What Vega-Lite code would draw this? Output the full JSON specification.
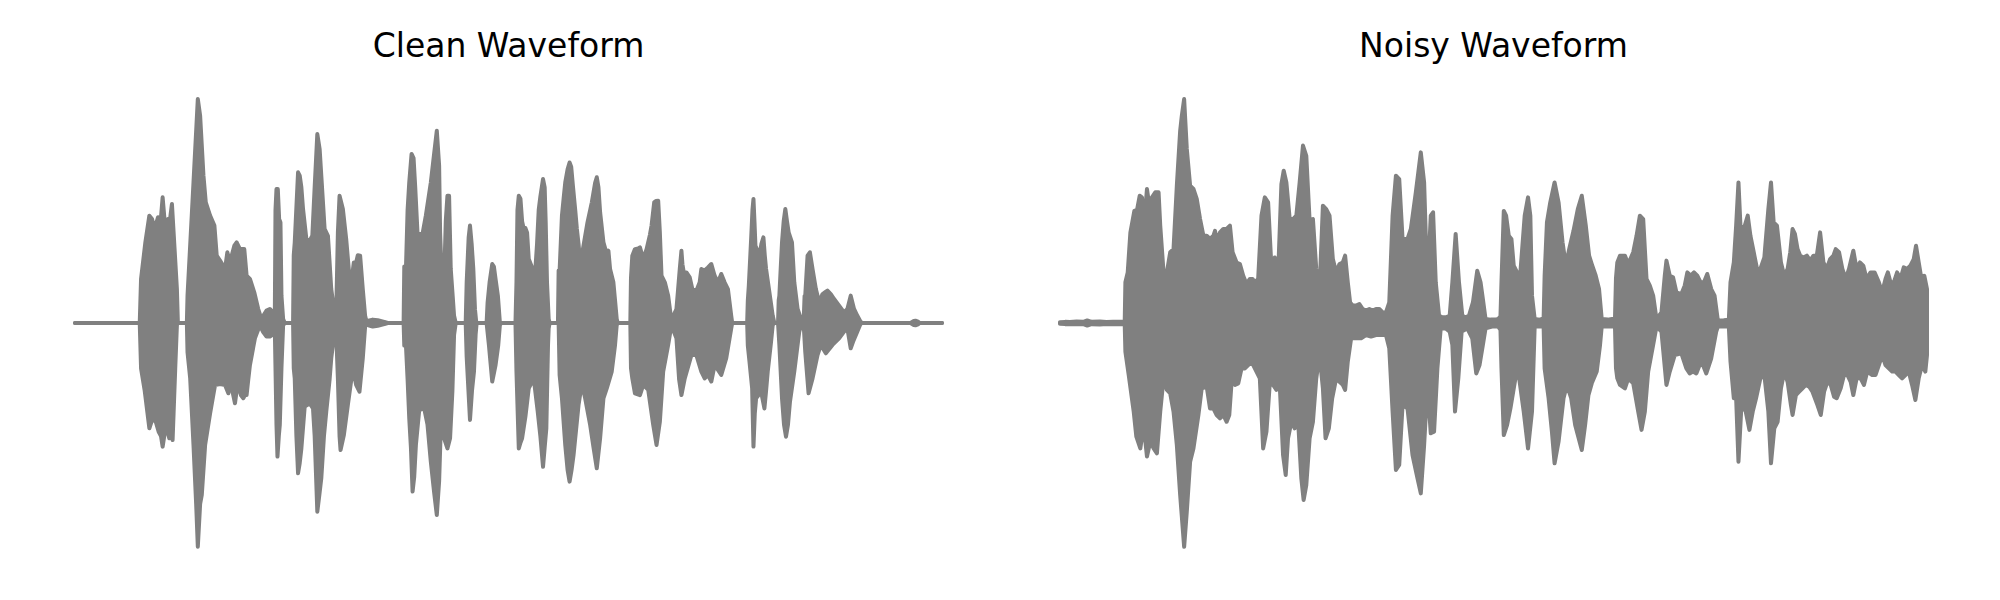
{
  "$schema": "https://vega.github.io/schema/vega-lite/v6.json",
  "padding": {"left": 73, "top": 31, "right": 0, "bottom": 0},
  "background": "white",
  "config": {
    "view": {"stroke": null},
    "title": {"font": "DejaVu Sans", "fontSize": 33, "fontWeight": "normal", "color": "#000000", "baseline": "alphabetic", "offset": 33}
  },
  "bounds": "flush",
  "spacing": 118,
  "datasets": {
    "clean": [
      {"env":"upper","t":0,"amp":0},{"env":"upper","t":195,"amp":0},{"env":"upper","t":199,"amp":0.195},{"env":"upper","t":212,"amp":0.357},{"env":"upper","t":224,"amp":0.475},{"env":"upper","t":232,"amp":0.46},{"env":"upper","t":240,"amp":0.416},{"env":"upper","t":250,"amp":0.468},{"env":"upper","t":257,"amp":0.431},{"env":"upper","t":264,"amp":0.556},{"env":"upper","t":272,"amp":0.416},{"env":"upper","t":280,"amp":0.46},{"env":"upper","t":284,"amp":0.431},{"env":"upper","t":292,"amp":0.527},{"env":"upper","t":300,"amp":0.327},{"env":"upper","t":307,"amp":0.15},{"env":"upper","t":310,"amp":0},
      {"env":"upper","t":337,"amp":0},{"env":"upper","t":339,"amp":0.121},{"env":"upper","t":357,"amp":0.622},{"env":"upper","t":370,"amp":0.991},{"env":"upper","t":377,"amp":0.917},{"env":"upper","t":387,"amp":0.652},{"env":"upper","t":394,"amp":0.534},{"env":"upper","t":407,"amp":0.475},{"env":"upper","t":420,"amp":0.431},{"env":"upper","t":427,"amp":0.298},{"env":"upper","t":437,"amp":0.276},{"env":"upper","t":452,"amp":0.239},{"env":"upper","t":459,"amp":0.313},{"env":"upper","t":467,"amp":0.268},{"env":"upper","t":472,"amp":0.298},{"env":"upper","t":480,"amp":0.342},{"env":"upper","t":487,"amp":0.357},{"env":"upper","t":497,"amp":0.327},{"env":"upper","t":510,"amp":0.327},{"env":"upper","t":517,"amp":0.209},{"env":"upper","t":527,"amp":0.195},{"env":"upper","t":540,"amp":0.136},{"env":"upper","t":552,"amp":0.062},{"env":"upper","t":560,"amp":0.025},{"env":"upper","t":567,"amp":0.032},{"env":"upper","t":577,"amp":0.055},{"env":"upper","t":587,"amp":0.062},{"env":"upper","t":597,"amp":0.047},{"env":"upper","t":602,"amp":0.032},{"env":"upper","t":604,"amp":0.5},{"env":"upper","t":607,"amp":0.593},{"env":"upper","t":611,"amp":0.593},{"env":"upper","t":615,"amp":0.46},{"env":"upper","t":619,"amp":0.445},{"env":"upper","t":622,"amp":0.121},{"env":"upper","t":627,"amp":0.018},{"env":"upper","t":632,"amp":0},
      {"env":"upper","t":657,"amp":0},{"env":"upper","t":659,"amp":0.3},{"env":"upper","t":662,"amp":0.357},{"env":"upper","t":672,"amp":0.667},{"env":"upper","t":677,"amp":0.652},{"env":"upper","t":682,"amp":0.6},{"env":"upper","t":687,"amp":0.504},{"env":"upper","t":697,"amp":0.372},{"env":"upper","t":707,"amp":0.364},{"env":"upper","t":715,"amp":0.386},{"env":"upper","t":722,"amp":0.6},{"env":"upper","t":730,"amp":0.836},{"env":"upper","t":737,"amp":0.77},{"env":"upper","t":742,"amp":0.652},{"env":"upper","t":752,"amp":0.416},{"env":"upper","t":762,"amp":0.386},{"env":"upper","t":772,"amp":0.15},{"env":"upper","t":780,"amp":0.062},{"env":"upper","t":787,"amp":0.05},{"env":"upper","t":792,"amp":0.4},{"env":"upper","t":797,"amp":0.563},{"env":"upper","t":807,"amp":0.504},{"env":"upper","t":817,"amp":0.372},{"env":"upper","t":827,"amp":0.2},{"env":"upper","t":835,"amp":0.209},{"env":"upper","t":840,"amp":0.268},{"env":"upper","t":847,"amp":0.268},{"env":"upper","t":852,"amp":0.3},{"env":"upper","t":859,"amp":0.298},{"env":"upper","t":867,"amp":0.15},{"env":"upper","t":874,"amp":0.032},{"env":"upper","t":879,"amp":0},{"env":"upper","t":884,"amp":0.01},{"env":"upper","t":897,"amp":0.015},{"env":"upper","t":912,"amp":0.012},{"env":"upper","t":932,"amp":0.005},{"env":"upper","t":942,"amp":0},
      {"env":"upper","t":990,"amp":0},{"env":"upper","t":992,"amp":0.25},{"env":"upper","t":997,"amp":0.239},{"env":"upper","t":1002,"amp":0.5},{"env":"upper","t":1007,"amp":0.622},{"env":"upper","t":1014,"amp":0.748},{"env":"upper","t":1020,"amp":0.73},{"env":"upper","t":1025,"amp":0.6},{"env":"upper","t":1032,"amp":0.394},{"env":"upper","t":1047,"amp":0.394},{"env":"upper","t":1057,"amp":0.475},{"env":"upper","t":1072,"amp":0.622},{"env":"upper","t":1082,"amp":0.75},{"env":"upper","t":1090,"amp":0.851},{"env":"upper","t":1097,"amp":0.696},{"env":"upper","t":1100,"amp":0.4},{"env":"upper","t":1104,"amp":0.239},{"env":"upper","t":1112,"amp":0.18},{"env":"upper","t":1117,"amp":0.45},{"env":"upper","t":1122,"amp":0.563},{"env":"upper","t":1127,"amp":0.563},{"env":"upper","t":1132,"amp":0.239},{"env":"upper","t":1137,"amp":0.136},{"env":"upper","t":1142,"amp":0.032},{"env":"upper","t":1147,"amp":0},
      {"env":"upper","t":1177,"amp":0},{"env":"upper","t":1180,"amp":0.18},{"env":"upper","t":1186,"amp":0.38},{"env":"upper","t":1190,"amp":0.431},{"env":"upper","t":1195,"amp":0.35},{"env":"upper","t":1200,"amp":0.239},{"env":"upper","t":1205,"amp":0.06},{"env":"upper","t":1209,"amp":0},
      {"env":"upper","t":1240,"amp":0},{"env":"upper","t":1243,"amp":0.09},{"env":"upper","t":1249,"amp":0.18},{"env":"upper","t":1257,"amp":0.261},{"env":"upper","t":1262,"amp":0.25},{"env":"upper","t":1267,"amp":0.195},{"env":"upper","t":1274,"amp":0.121},{"env":"upper","t":1280,"amp":0.003},{"env":"upper","t":1284,"amp":0},
      {"env":"upper","t":1327,"amp":0},{"env":"upper","t":1330,"amp":0.18},{"env":"upper","t":1333,"amp":0.5},{"env":"upper","t":1337,"amp":0.563},{"env":"upper","t":1342,"amp":0.55},{"env":"upper","t":1347,"amp":0.45},{"env":"upper","t":1352,"amp":0.416},{"env":"upper","t":1357,"amp":0.42},{"env":"upper","t":1362,"amp":0.4},{"env":"upper","t":1367,"amp":0.283},{"env":"upper","t":1377,"amp":0.246},{"env":"upper","t":1387,"amp":0.239},{"env":"upper","t":1392,"amp":0.35},{"env":"upper","t":1397,"amp":0.5},{"env":"upper","t":1402,"amp":0.56},{"env":"upper","t":1410,"amp":0.637},{"env":"upper","t":1415,"amp":0.6},{"env":"upper","t":1418,"amp":0.45},{"env":"upper","t":1422,"amp":0.18},{"env":"upper","t":1427,"amp":0.018},{"env":"upper","t":1430,"amp":0},
      {"env":"upper","t":1455,"amp":0},{"env":"upper","t":1457,"amp":0.232},{"env":"upper","t":1460,"amp":0.232},{"env":"upper","t":1467,"amp":0.475},{"env":"upper","t":1472,"amp":0.55},{"env":"upper","t":1477,"amp":0.622},{"env":"upper","t":1484,"amp":0.68},{"env":"upper","t":1490,"amp":0.71},{"env":"upper","t":1495,"amp":0.69},{"env":"upper","t":1500,"amp":0.608},{"env":"upper","t":1507,"amp":0.5},{"env":"upper","t":1512,"amp":0.416},{"env":"upper","t":1517,"amp":0.35},{"env":"upper","t":1522,"amp":0.268},{"env":"upper","t":1527,"amp":0.3},{"env":"upper","t":1532,"amp":0.342},{"env":"upper","t":1544,"amp":0.445},{"env":"upper","t":1557,"amp":0.534},{"env":"upper","t":1567,"amp":0.62},{"env":"upper","t":1572,"amp":0.645},{"env":"upper","t":1577,"amp":0.6},{"env":"upper","t":1582,"amp":0.49},{"env":"upper","t":1592,"amp":0.357},{"env":"upper","t":1602,"amp":0.305},{"env":"upper","t":1607,"amp":0.32},{"env":"upper","t":1612,"amp":0.239},{"env":"upper","t":1622,"amp":0.18},{"env":"upper","t":1627,"amp":0.1},{"env":"upper","t":1632,"amp":0.018},{"env":"upper","t":1635,"amp":0},
      {"env":"upper","t":1673,"amp":0},{"env":"upper","t":1675,"amp":0.2},{"env":"upper","t":1679,"amp":0.298},{"env":"upper","t":1687,"amp":0.327},{"env":"upper","t":1697,"amp":0.33},{"env":"upper","t":1702,"amp":0.335},{"env":"upper","t":1712,"amp":0.283},{"env":"upper","t":1722,"amp":0.327},{"env":"upper","t":1732,"amp":0.39},{"env":"upper","t":1737,"amp":0.431},{"env":"upper","t":1745,"amp":0.534},{"env":"upper","t":1750,"amp":0.54},{"env":"upper","t":1757,"amp":0.541},{"env":"upper","t":1762,"amp":0.4},{"env":"upper","t":1767,"amp":0.209},{"env":"upper","t":1777,"amp":0.18},{"env":"upper","t":1787,"amp":0.121},{"env":"upper","t":1795,"amp":0.03},{"env":"upper","t":1797,"amp":0.018},{"env":"upper","t":1802,"amp":0.03},{"env":"upper","t":1812,"amp":0.062},{"env":"upper","t":1817,"amp":0.15},{"env":"upper","t":1822,"amp":0.239},{"env":"upper","t":1827,"amp":0.32},{"env":"upper","t":1830,"amp":0.26},{"env":"upper","t":1834,"amp":0.224},{"env":"upper","t":1842,"amp":0.224},{"env":"upper","t":1852,"amp":0.202},{"env":"upper","t":1860,"amp":0.15},{"env":"upper","t":1872,"amp":0.143},{"env":"upper","t":1882,"amp":0.18},{"env":"upper","t":1887,"amp":0.239},{"env":"upper","t":1897,"amp":0.232},{"env":"upper","t":1907,"amp":0.246},{"env":"upper","t":1917,"amp":0.261},{"env":"upper","t":1927,"amp":0.209},{"env":"upper","t":1937,"amp":0.18},{"env":"upper","t":1947,"amp":0.217},{"env":"upper","t":1957,"amp":0.18},{"env":"upper","t":1967,"amp":0.15},{"env":"upper","t":1977,"amp":0.032},{"env":"upper","t":1980,"amp":0},
      {"env":"upper","t":2025,"amp":0},{"env":"upper","t":2027,"amp":0.1},{"env":"upper","t":2030,"amp":0.165},{"env":"upper","t":2037,"amp":0.372},{"env":"upper","t":2041,"amp":0.5},{"env":"upper","t":2044,"amp":0.549},{"env":"upper","t":2047,"amp":0.45},{"env":"upper","t":2050,"amp":0.342},{"env":"upper","t":2056,"amp":0.32},{"env":"upper","t":2062,"amp":0.298},{"env":"upper","t":2068,"amp":0.35},{"env":"upper","t":2074,"amp":0.379},{"env":"upper","t":2078,"amp":0.3},{"env":"upper","t":2082,"amp":0.239},{"env":"upper","t":2092,"amp":0.136},{"env":"upper","t":2102,"amp":0.032},{"env":"upper","t":2107,"amp":0},
      {"env":"upper","t":2118,"amp":0},{"env":"upper","t":2120,"amp":0.1},{"env":"upper","t":2122,"amp":0.12},{"env":"upper","t":2130,"amp":0.357},{"env":"upper","t":2135,"amp":0.45},{"env":"upper","t":2140,"amp":0.504},{"env":"upper","t":2145,"amp":0.45},{"env":"upper","t":2150,"amp":0.401},{"env":"upper","t":2160,"amp":0.357},{"env":"upper","t":2167,"amp":0.18},{"env":"upper","t":2177,"amp":0.062},{"env":"upper","t":2187,"amp":0.018},{"env":"upper","t":2190,"amp":0},
      {"env":"upper","t":2195,"amp":0},{"env":"upper","t":2198,"amp":0.12},{"env":"upper","t":2200,"amp":0.121},{"env":"upper","t":2207,"amp":0.298},{"env":"upper","t":2214,"amp":0.313},{"env":"upper","t":2222,"amp":0.239},{"env":"upper","t":2232,"amp":0.15},{"env":"upper","t":2242,"amp":0.091},{"env":"upper","t":2252,"amp":0.128},{"env":"upper","t":2260,"amp":0.136},{"env":"upper","t":2267,"amp":0.143},{"env":"upper","t":2277,"amp":0.128},{"env":"upper","t":2287,"amp":0.106},{"env":"upper","t":2302,"amp":0.077},{"env":"upper","t":2317,"amp":0.047},{"env":"upper","t":2327,"amp":0.062},{"env":"upper","t":2337,"amp":0.121},{"env":"upper","t":2347,"amp":0.062},{"env":"upper","t":2357,"amp":0.032},{"env":"upper","t":2367,"amp":0.005},{"env":"upper","t":2372,"amp":0},
      {"env":"upper","t":2517,"amp":0},{"env":"upper","t":2527,"amp":0.009},{"env":"upper","t":2532,"amp":0.01},{"env":"upper","t":2540,"amp":0.006},{"env":"upper","t":2544,"amp":0},{"env":"upper","t":2612,"amp":0},

      {"env":"lower","t":0,"amp":0},{"env":"lower","t":195,"amp":0},{"env":"lower","t":199,"amp":-0.201},{"env":"lower","t":210,"amp":-0.3},{"env":"lower","t":224,"amp":-0.466},{"env":"lower","t":232,"amp":-0.43},{"env":"lower","t":237,"amp":-0.422},{"env":"lower","t":244,"amp":-0.44},{"env":"lower","t":252,"amp":-0.481},{"env":"lower","t":259,"amp":-0.5},{"env":"lower","t":264,"amp":-0.547},{"env":"lower","t":269,"amp":-0.5},{"env":"lower","t":274,"amp":-0.451},{"env":"lower","t":279,"amp":-0.48},{"env":"lower","t":284,"amp":-0.51},{"env":"lower","t":289,"amp":-0.48},{"env":"lower","t":294,"amp":-0.518},{"env":"lower","t":297,"amp":-0.4},{"env":"lower","t":302,"amp":-0.2},{"env":"lower","t":307,"amp":-0.01},{"env":"lower","t":310,"amp":0},
      {"env":"lower","t":337,"amp":0},{"env":"lower","t":339,"amp":-0.13},{"env":"lower","t":347,"amp":-0.245},{"env":"lower","t":357,"amp":-0.54},{"env":"lower","t":365,"amp":-0.8},{"env":"lower","t":370,"amp":-0.99},{"env":"lower","t":377,"amp":-0.8},{"env":"lower","t":382,"amp":-0.761},{"env":"lower","t":392,"amp":-0.54},{"env":"lower","t":407,"amp":-0.4},{"env":"lower","t":422,"amp":-0.274},{"env":"lower","t":437,"amp":-0.27},{"env":"lower","t":452,"amp":-0.274},{"env":"lower","t":462,"amp":-0.311},{"env":"lower","t":467,"amp":-0.274},{"env":"lower","t":474,"amp":-0.3},{"env":"lower","t":482,"amp":-0.355},{"env":"lower","t":487,"amp":-0.3},{"env":"lower","t":492,"amp":-0.274},{"env":"lower","t":500,"amp":-0.32},{"env":"lower","t":507,"amp":-0.333},{"env":"lower","t":512,"amp":-0.32},{"env":"lower","t":517,"amp":-0.319},{"env":"lower","t":522,"amp":-0.25},{"env":"lower","t":527,"amp":-0.186},{"env":"lower","t":542,"amp":-0.068},{"env":"lower","t":557,"amp":-0.009},{"env":"lower","t":567,"amp":-0.04},{"env":"lower","t":577,"amp":-0.06},{"env":"lower","t":587,"amp":-0.06},{"env":"lower","t":597,"amp":-0.05},{"env":"lower","t":602,"amp":-0.03},{"env":"lower","t":607,"amp":-0.45},{"env":"lower","t":610,"amp":-0.591},{"env":"lower","t":614,"amp":-0.5},{"env":"lower","t":617,"amp":-0.451},{"env":"lower","t":622,"amp":-0.2},{"env":"lower","t":627,"amp":-0.01},{"env":"lower","t":632,"amp":0},
      {"env":"lower","t":657,"amp":0},{"env":"lower","t":659,"amp":-0.2},{"env":"lower","t":662,"amp":-0.245},{"env":"lower","t":667,"amp":-0.5},{"env":"lower","t":672,"amp":-0.665},{"env":"lower","t":677,"amp":-0.62},{"env":"lower","t":682,"amp":-0.555},{"env":"lower","t":692,"amp":-0.37},{"env":"lower","t":707,"amp":-0.355},{"env":"lower","t":717,"amp":-0.378},{"env":"lower","t":722,"amp":-0.5},{"env":"lower","t":730,"amp":-0.835},{"env":"lower","t":737,"amp":-0.75},{"env":"lower","t":742,"amp":-0.687},{"env":"lower","t":750,"amp":-0.5},{"env":"lower","t":757,"amp":-0.392},{"env":"lower","t":767,"amp":-0.25},{"env":"lower","t":772,"amp":-0.156},{"env":"lower","t":782,"amp":-0.038},{"env":"lower","t":787,"amp":-0.05},{"env":"lower","t":792,"amp":-0.245},{"env":"lower","t":797,"amp":-0.5},{"env":"lower","t":800,"amp":-0.562},{"env":"lower","t":810,"amp":-0.496},{"env":"lower","t":822,"amp":-0.363},{"env":"lower","t":837,"amp":-0.201},{"env":"lower","t":847,"amp":-0.274},{"env":"lower","t":857,"amp":-0.304},{"env":"lower","t":867,"amp":-0.156},{"env":"lower","t":874,"amp":-0.016},{"env":"lower","t":879,"amp":0},{"env":"lower","t":884,"amp":-0.01},{"env":"lower","t":897,"amp":-0.016},{"env":"lower","t":912,"amp":-0.012},{"env":"lower","t":932,"amp":-0.005},{"env":"lower","t":942,"amp":0},
      {"env":"lower","t":990,"amp":0},{"env":"lower","t":992,"amp":-0.1},{"env":"lower","t":997,"amp":-0.097},{"env":"lower","t":1002,"amp":-0.25},{"env":"lower","t":1007,"amp":-0.422},{"env":"lower","t":1012,"amp":-0.55},{"env":"lower","t":1017,"amp":-0.746},{"env":"lower","t":1022,"amp":-0.68},{"env":"lower","t":1027,"amp":-0.54},{"env":"lower","t":1037,"amp":-0.385},{"env":"lower","t":1052,"amp":-0.378},{"env":"lower","t":1062,"amp":-0.45},{"env":"lower","t":1072,"amp":-0.614},{"env":"lower","t":1082,"amp":-0.75},{"env":"lower","t":1090,"amp":-0.85},{"env":"lower","t":1097,"amp":-0.7},{"env":"lower","t":1102,"amp":-0.466},{"env":"lower","t":1112,"amp":-0.51},{"env":"lower","t":1122,"amp":-0.555},{"env":"lower","t":1130,"amp":-0.51},{"env":"lower","t":1137,"amp":-0.3},{"env":"lower","t":1142,"amp":-0.053},{"env":"lower","t":1147,"amp":0},
      {"env":"lower","t":1177,"amp":0},{"env":"lower","t":1180,"amp":-0.15},{"env":"lower","t":1190,"amp":-0.429},{"env":"lower","t":1196,"amp":-0.3},{"env":"lower","t":1202,"amp":-0.215},{"env":"lower","t":1207,"amp":-0.05},{"env":"lower","t":1210,"amp":0},
      {"env":"lower","t":1240,"amp":0},{"env":"lower","t":1247,"amp":-0.097},{"env":"lower","t":1257,"amp":-0.259},{"env":"lower","t":1267,"amp":-0.186},{"env":"lower","t":1275,"amp":-0.1},{"env":"lower","t":1280,"amp":-0.009},{"env":"lower","t":1284,"amp":0},
      {"env":"lower","t":1327,"amp":0},{"env":"lower","t":1330,"amp":-0.215},{"env":"lower","t":1337,"amp":-0.555},{"env":"lower","t":1342,"amp":-0.53},{"env":"lower","t":1347,"amp":-0.51},{"env":"lower","t":1357,"amp":-0.414},{"env":"lower","t":1367,"amp":-0.289},{"env":"lower","t":1382,"amp":-0.245},{"env":"lower","t":1394,"amp":-0.392},{"env":"lower","t":1402,"amp":-0.5},{"env":"lower","t":1410,"amp":-0.636},{"env":"lower","t":1415,"amp":-0.55},{"env":"lower","t":1420,"amp":-0.466},{"env":"lower","t":1425,"amp":-0.1},{"env":"lower","t":1427,"amp":-0.024},{"env":"lower","t":1430,"amp":0},
      {"env":"lower","t":1457,"amp":0},{"env":"lower","t":1460,"amp":-0.23},{"env":"lower","t":1467,"amp":-0.333},{"env":"lower","t":1477,"amp":-0.54},{"env":"lower","t":1484,"amp":-0.65},{"env":"lower","t":1490,"amp":-0.702},{"env":"lower","t":1496,"amp":-0.65},{"env":"lower","t":1502,"amp":-0.584},{"env":"lower","t":1517,"amp":-0.363},{"env":"lower","t":1527,"amp":-0.267},{"env":"lower","t":1537,"amp":-0.333},{"env":"lower","t":1552,"amp":-0.451},{"env":"lower","t":1562,"amp":-0.55},{"env":"lower","t":1572,"amp":-0.643},{"env":"lower","t":1582,"amp":-0.51},{"env":"lower","t":1592,"amp":-0.333},{"env":"lower","t":1602,"amp":-0.289},{"env":"lower","t":1617,"amp":-0.215},{"env":"lower","t":1627,"amp":-0.097},{"env":"lower","t":1632,"amp":-0.009},{"env":"lower","t":1635,"amp":0},
      {"env":"lower","t":1673,"amp":0},{"env":"lower","t":1675,"amp":-0.2},{"env":"lower","t":1679,"amp":-0.245},{"env":"lower","t":1687,"amp":-0.311},{"env":"lower","t":1702,"amp":-0.319},{"env":"lower","t":1712,"amp":-0.274},{"env":"lower","t":1727,"amp":-0.296},{"env":"lower","t":1742,"amp":-0.451},{"env":"lower","t":1752,"amp":-0.54},{"env":"lower","t":1762,"amp":-0.437},{"env":"lower","t":1772,"amp":-0.215},{"env":"lower","t":1787,"amp":-0.097},{"env":"lower","t":1797,"amp":-0.009},{"env":"lower","t":1802,"amp":-0.03},{"env":"lower","t":1812,"amp":-0.068},{"env":"lower","t":1820,"amp":-0.25},{"env":"lower","t":1827,"amp":-0.319},{"env":"lower","t":1837,"amp":-0.245},{"env":"lower","t":1857,"amp":-0.142},{"env":"lower","t":1872,"amp":-0.142},{"env":"lower","t":1887,"amp":-0.215},{"env":"lower","t":1897,"amp":-0.245},{"env":"lower","t":1907,"amp":-0.23},{"env":"lower","t":1917,"amp":-0.259},{"env":"lower","t":1927,"amp":-0.186},{"env":"lower","t":1937,"amp":-0.208},{"env":"lower","t":1947,"amp":-0.23},{"env":"lower","t":1962,"amp":-0.156},{"env":"lower","t":1977,"amp":-0.024},{"env":"lower","t":1980,"amp":0},
      {"env":"lower","t":2025,"amp":0},{"env":"lower","t":2027,"amp":-0.1},{"env":"lower","t":2032,"amp":-0.171},{"env":"lower","t":2040,"amp":-0.289},{"env":"lower","t":2044,"amp":-0.547},{"env":"lower","t":2048,"amp":-0.4},{"env":"lower","t":2052,"amp":-0.333},{"env":"lower","t":2067,"amp":-0.304},{"env":"lower","t":2077,"amp":-0.378},{"env":"lower","t":2082,"amp":-0.3},{"env":"lower","t":2087,"amp":-0.215},{"env":"lower","t":2097,"amp":-0.083},{"env":"lower","t":2102,"amp":-0.009},{"env":"lower","t":2107,"amp":0},
      {"env":"lower","t":2118,"amp":0},{"env":"lower","t":2122,"amp":-0.097},{"env":"lower","t":2130,"amp":-0.333},{"env":"lower","t":2136,"amp":-0.45},{"env":"lower","t":2142,"amp":-0.503},{"env":"lower","t":2148,"amp":-0.45},{"env":"lower","t":2154,"amp":-0.348},{"env":"lower","t":2167,"amp":-0.215},{"env":"lower","t":2182,"amp":-0.038},{"env":"lower","t":2190,"amp":0},
      {"env":"lower","t":2195,"amp":0},{"env":"lower","t":2200,"amp":-0.127},{"env":"lower","t":2210,"amp":-0.311},{"env":"lower","t":2222,"amp":-0.245},{"env":"lower","t":2237,"amp":-0.142},{"env":"lower","t":2247,"amp":-0.097},{"env":"lower","t":2262,"amp":-0.134},{"env":"lower","t":2282,"amp":-0.097},{"env":"lower","t":2302,"amp":-0.068},{"env":"lower","t":2317,"amp":-0.038},{"env":"lower","t":2327,"amp":-0.024},{"env":"lower","t":2337,"amp":-0.112},{"env":"lower","t":2344,"amp":-0.083},{"env":"lower","t":2357,"amp":-0.038},{"env":"lower","t":2367,"amp":-0.002},{"env":"lower","t":2372,"amp":0},
      {"env":"lower","t":2517,"amp":0},{"env":"lower","t":2527,"amp":-0.009},{"env":"lower","t":2532,"amp":-0.01},{"env":"lower","t":2540,"amp":-0.006},{"env":"lower","t":2544,"amp":0},{"env":"lower","t":2612,"amp":0}
    ],
    "noisy": [
      {"env":"upper","t":0,"amp":0.003},{"env":"upper","t":15,"amp":0.005},{"env":"upper","t":30,"amp":0.004},{"env":"upper","t":50,"amp":0.007},{"env":"upper","t":70,"amp":0.005},{"env":"upper","t":82,"amp":0.011},{"env":"upper","t":95,"amp":0.005},{"env":"upper","t":120,"amp":0.007},{"env":"upper","t":140,"amp":0.004},{"env":"upper","t":160,"amp":0.006},{"env":"upper","t":190,"amp":0.005},{"env":"upper","t":195,"amp":0.008},{"env":"upper","t":197,"amp":0.18},{"env":"upper","t":204,"amp":0.224},{"env":"upper","t":212,"amp":0.4},{"env":"upper","t":224,"amp":0.496},{"env":"upper","t":232,"amp":0.5},{"env":"upper","t":240,"amp":0.563},{"env":"upper","t":247,"amp":0.556},{"env":"upper","t":254,"amp":0.445},{"env":"upper","t":262,"amp":0.593},{"env":"upper","t":267,"amp":0.541},{"env":"upper","t":277,"amp":0.556},{"env":"upper","t":287,"amp":0.578},{"env":"upper","t":297,"amp":0.578},{"env":"upper","t":302,"amp":0.431},{"env":"upper","t":312,"amp":0.224},{"env":"upper","t":322,"amp":0.224},{"env":"upper","t":332,"amp":0.313},{"env":"upper","t":342,"amp":0.327},{"env":"upper","t":352,"amp":0.608},{"env":"upper","t":362,"amp":0.85},{"env":"upper","t":367,"amp":0.917},{"env":"upper","t":374,"amp":0.991},{"env":"upper","t":382,"amp":0.77},{"env":"upper","t":392,"amp":0.608},{"env":"upper","t":402,"amp":0.593},{"env":"upper","t":412,"amp":0.549},{"env":"upper","t":422,"amp":0.46},{"env":"upper","t":432,"amp":0.386},{"env":"upper","t":442,"amp":0.386},{"env":"upper","t":452,"amp":0.372},{"env":"upper","t":462,"amp":0.386},{"env":"upper","t":467,"amp":0.408},{"env":"upper","t":472,"amp":0.364},{"env":"upper","t":482,"amp":0.401},{"env":"upper","t":492,"amp":0.416},{"env":"upper","t":502,"amp":0.416},{"env":"upper","t":512,"amp":0.431},{"env":"upper","t":520,"amp":0.313},{"env":"upper","t":532,"amp":0.268},{"env":"upper","t":542,"amp":0.261},{"env":"upper","t":552,"amp":0.209},{"env":"upper","t":562,"amp":0.173},{"env":"upper","t":572,"amp":0.195},{"env":"upper","t":580,"amp":0.195},{"env":"upper","t":587,"amp":0.18},{"env":"upper","t":597,"amp":0.195},{"env":"upper","t":607,"amp":0.475},{"env":"upper","t":617,"amp":0.556},{"env":"upper","t":627,"amp":0.534},{"env":"upper","t":637,"amp":0.246},{"env":"upper","t":647,"amp":0.29},{"env":"upper","t":657,"amp":0.209},{"env":"upper","t":667,"amp":0.615},{"env":"upper","t":674,"amp":0.674},{"env":"upper","t":682,"amp":0.622},{"env":"upper","t":692,"amp":0.46},{"env":"upper","t":702,"amp":0.46},{"env":"upper","t":712,"amp":0.475},{"env":"upper","t":722,"amp":0.622},{"env":"upper","t":732,"amp":0.785},{"env":"upper","t":742,"amp":0.74},{"env":"upper","t":752,"amp":0.453},{"env":"upper","t":762,"amp":0.46},{"env":"upper","t":772,"amp":0.239},{"env":"upper","t":782,"amp":0.15},{"env":"upper","t":792,"amp":0.519},{"env":"upper","t":802,"amp":0.504},{"env":"upper","t":812,"amp":0.475},{"env":"upper","t":822,"amp":0.283},{"env":"upper","t":832,"amp":0.224},{"env":"upper","t":842,"amp":0.261},{"env":"upper","t":852,"amp":0.268},{"env":"upper","t":859,"amp":0.298},{"env":"upper","t":867,"amp":0.18},{"env":"upper","t":874,"amp":0.091},{"env":"upper","t":882,"amp":0.077},{"env":"upper","t":892,"amp":0.077},{"env":"upper","t":902,"amp":0.084},{"env":"upper","t":912,"amp":0.062},{"env":"upper","t":922,"amp":0.055},{"env":"upper","t":932,"amp":0.062},{"env":"upper","t":942,"amp":0.055},{"env":"upper","t":952,"amp":0.062},{"env":"upper","t":962,"amp":0.062},{"env":"upper","t":972,"amp":0.047},{"env":"upper","t":982,"amp":0.047},{"env":"upper","t":992,"amp":0.091},{"env":"upper","t":1002,"amp":0.475},{"env":"upper","t":1012,"amp":0.652},{"env":"upper","t":1022,"amp":0.637},{"env":"upper","t":1032,"amp":0.372},{"env":"upper","t":1047,"amp":0.372},{"env":"upper","t":1057,"amp":0.416},{"env":"upper","t":1072,"amp":0.578},{"env":"upper","t":1087,"amp":0.755},{"env":"upper","t":1097,"amp":0.622},{"env":"upper","t":1107,"amp":0.15},{"env":"upper","t":1117,"amp":0.475},{"env":"upper","t":1124,"amp":0.49},{"env":"upper","t":1132,"amp":0.18},{"env":"upper","t":1142,"amp":0.032},{"env":"upper","t":1152,"amp":0.025},{"env":"upper","t":1162,"amp":0.025},{"env":"upper","t":1174,"amp":0.032},{"env":"upper","t":1182,"amp":0.18},{"env":"upper","t":1192,"amp":0.394},{"env":"upper","t":1202,"amp":0.18},{"env":"upper","t":1212,"amp":0.032},{"env":"upper","t":1222,"amp":0.025},{"env":"upper","t":1232,"amp":0.032},{"env":"upper","t":1244,"amp":0.091},{"env":"upper","t":1257,"amp":0.231},{"env":"upper","t":1267,"amp":0.18},{"env":"upper","t":1274,"amp":0.106},{"env":"upper","t":1282,"amp":0.018},{"env":"upper","t":1297,"amp":0.015},{"env":"upper","t":1312,"amp":0.015},{"env":"upper","t":1320,"amp":0.018},{"env":"upper","t":1327,"amp":0.03},{"env":"upper","t":1330,"amp":0.18},{"env":"upper","t":1337,"amp":0.496},{"env":"upper","t":1344,"amp":0.475},{"env":"upper","t":1352,"amp":0.386},{"env":"upper","t":1360,"amp":0.372},{"env":"upper","t":1367,"amp":0.254},{"env":"upper","t":1377,"amp":0.224},{"env":"upper","t":1387,"amp":0.224},{"env":"upper","t":1400,"amp":0.475},{"env":"upper","t":1410,"amp":0.556},{"env":"upper","t":1417,"amp":0.475},{"env":"upper","t":1422,"amp":0.121},{"env":"upper","t":1430,"amp":0.018},{"env":"upper","t":1445,"amp":0.015},{"env":"upper","t":1457,"amp":0.02},{"env":"upper","t":1460,"amp":0.209},{"env":"upper","t":1467,"amp":0.445},{"env":"upper","t":1477,"amp":0.534},{"env":"upper","t":1490,"amp":0.622},{"env":"upper","t":1502,"amp":0.534},{"env":"upper","t":1514,"amp":0.357},{"env":"upper","t":1524,"amp":0.254},{"env":"upper","t":1534,"amp":0.327},{"env":"upper","t":1547,"amp":0.408},{"env":"upper","t":1560,"amp":0.504},{"env":"upper","t":1572,"amp":0.563},{"env":"upper","t":1584,"amp":0.431},{"env":"upper","t":1594,"amp":0.298},{"env":"upper","t":1602,"amp":0.261},{"env":"upper","t":1614,"amp":0.209},{"env":"upper","t":1624,"amp":0.15},{"env":"upper","t":1632,"amp":0.018},{"env":"upper","t":1650,"amp":0.015},{"env":"upper","t":1672,"amp":0.02},{"env":"upper","t":1675,"amp":0.2},{"env":"upper","t":1679,"amp":0.268},{"env":"upper","t":1687,"amp":0.298},{"env":"upper","t":1702,"amp":0.298},{"env":"upper","t":1712,"amp":0.261},{"env":"upper","t":1727,"amp":0.313},{"env":"upper","t":1737,"amp":0.386},{"env":"upper","t":1747,"amp":0.475},{"env":"upper","t":1757,"amp":0.46},{"env":"upper","t":1767,"amp":0.195},{"env":"upper","t":1777,"amp":0.165},{"env":"upper","t":1787,"amp":0.121},{"env":"upper","t":1797,"amp":0.018},{"env":"upper","t":1812,"amp":0.047},{"env":"upper","t":1822,"amp":0.209},{"env":"upper","t":1827,"amp":0.276},{"env":"upper","t":1837,"amp":0.209},{"env":"upper","t":1847,"amp":0.202},{"env":"upper","t":1857,"amp":0.136},{"env":"upper","t":1872,"amp":0.128},{"env":"upper","t":1882,"amp":0.165},{"env":"upper","t":1890,"amp":0.224},{"env":"upper","t":1900,"amp":0.209},{"env":"upper","t":1910,"amp":0.224},{"env":"upper","t":1920,"amp":0.209},{"env":"upper","t":1930,"amp":0.18},{"env":"upper","t":1940,"amp":0.18},{"env":"upper","t":1950,"amp":0.217},{"env":"upper","t":1962,"amp":0.15},{"env":"upper","t":1972,"amp":0.121},{"env":"upper","t":1982,"amp":0.01},{"env":"upper","t":2000,"amp":0.012},{"env":"upper","t":2015,"amp":0.015},{"env":"upper","t":2020,"amp":0.18},{"env":"upper","t":2030,"amp":0.268},{"env":"upper","t":2037,"amp":0.431},{"env":"upper","t":2044,"amp":0.622},{"env":"upper","t":2050,"amp":0.431},{"env":"upper","t":2060,"amp":0.416},{"env":"upper","t":2072,"amp":0.475},{"env":"upper","t":2080,"amp":0.386},{"env":"upper","t":2090,"amp":0.313},{"env":"upper","t":2100,"amp":0.239},{"env":"upper","t":2110,"amp":0.239},{"env":"upper","t":2122,"amp":0.29},{"env":"upper","t":2134,"amp":0.504},{"env":"upper","t":2142,"amp":0.622},{"env":"upper","t":2150,"amp":0.445},{"env":"upper","t":2160,"amp":0.431},{"env":"upper","t":2172,"amp":0.268},{"env":"upper","t":2182,"amp":0.209},{"env":"upper","t":2192,"amp":0.239},{"env":"upper","t":2200,"amp":0.313},{"env":"upper","t":2207,"amp":0.416},{"env":"upper","t":2214,"amp":0.394},{"env":"upper","t":2222,"amp":0.327},{"env":"upper","t":2230,"amp":0.298},{"env":"upper","t":2240,"amp":0.29},{"env":"upper","t":2250,"amp":0.298},{"env":"upper","t":2260,"amp":0.276},{"env":"upper","t":2270,"amp":0.298},{"env":"upper","t":2280,"amp":0.298},{"env":"upper","t":2290,"amp":0.401},{"env":"upper","t":2300,"amp":0.268},{"env":"upper","t":2310,"amp":0.239},{"env":"upper","t":2320,"amp":0.283},{"env":"upper","t":2330,"amp":0.298},{"env":"upper","t":2337,"amp":0.327},{"env":"upper","t":2347,"amp":0.313},{"env":"upper","t":2357,"amp":0.239},{"env":"upper","t":2367,"amp":0.195},{"env":"upper","t":2377,"amp":0.239},{"env":"upper","t":2390,"amp":0.32},{"env":"upper","t":2400,"amp":0.239},{"env":"upper","t":2410,"amp":0.268},{"env":"upper","t":2420,"amp":0.254},{"env":"upper","t":2430,"amp":0.195},{"env":"upper","t":2442,"amp":0.224},{"env":"upper","t":2454,"amp":0.224},{"env":"upper","t":2467,"amp":0.18},{"env":"upper","t":2477,"amp":0.136},{"env":"upper","t":2487,"amp":0.195},{"env":"upper","t":2494,"amp":0.224},{"env":"upper","t":2502,"amp":0.18},{"env":"upper","t":2512,"amp":0.18},{"env":"upper","t":2522,"amp":0.224},{"env":"upper","t":2532,"amp":0.195},{"env":"upper","t":2542,"amp":0.246},{"env":"upper","t":2552,"amp":0.239},{"env":"upper","t":2562,"amp":0.254},{"env":"upper","t":2572,"amp":0.283},{"env":"upper","t":2579,"amp":0.342},{"env":"upper","t":2587,"amp":0.268},{"env":"upper","t":2597,"amp":0.18},{"env":"upper","t":2604,"amp":0.209},{"env":"upper","t":2612,"amp":0.15},

      {"env":"lower","t":0,"amp":-0.003},{"env":"lower","t":15,"amp":-0.005},{"env":"lower","t":30,"amp":-0.004},{"env":"lower","t":50,"amp":-0.006},{"env":"lower","t":70,"amp":-0.005},{"env":"lower","t":82,"amp":-0.011},{"env":"lower","t":95,"amp":-0.005},{"env":"lower","t":120,"amp":-0.007},{"env":"lower","t":140,"amp":-0.004},{"env":"lower","t":160,"amp":-0.006},{"env":"lower","t":190,"amp":-0.005},{"env":"lower","t":195,"amp":-0.008},{"env":"lower","t":197,"amp":-0.127},{"env":"lower","t":207,"amp":-0.23},{"env":"lower","t":222,"amp":-0.392},{"env":"lower","t":230,"amp":-0.503},{"env":"lower","t":242,"amp":-0.555},{"env":"lower","t":252,"amp":-0.451},{"env":"lower","t":262,"amp":-0.591},{"env":"lower","t":272,"amp":-0.525},{"env":"lower","t":282,"amp":-0.555},{"env":"lower","t":292,"amp":-0.577},{"env":"lower","t":302,"amp":-0.392},{"env":"lower","t":312,"amp":-0.245},{"env":"lower","t":322,"amp":-0.296},{"env":"lower","t":332,"amp":-0.311},{"env":"lower","t":342,"amp":-0.392},{"env":"lower","t":352,"amp":-0.54},{"env":"lower","t":362,"amp":-0.761},{"env":"lower","t":374,"amp":-0.99},{"env":"lower","t":382,"amp":-0.835},{"env":"lower","t":392,"amp":-0.614},{"env":"lower","t":402,"amp":-0.555},{"env":"lower","t":417,"amp":-0.407},{"env":"lower","t":427,"amp":-0.289},{"env":"lower","t":442,"amp":-0.282},{"env":"lower","t":452,"amp":-0.378},{"env":"lower","t":462,"amp":-0.378},{"env":"lower","t":472,"amp":-0.407},{"env":"lower","t":482,"amp":-0.422},{"env":"lower","t":492,"amp":-0.407},{"env":"lower","t":502,"amp":-0.437},{"env":"lower","t":510,"amp":-0.407},{"env":"lower","t":517,"amp":-0.26},{"env":"lower","t":527,"amp":-0.274},{"env":"lower","t":537,"amp":-0.267},{"env":"lower","t":547,"amp":-0.201},{"env":"lower","t":557,"amp":-0.201},{"env":"lower","t":567,"amp":-0.186},{"env":"lower","t":577,"amp":-0.171},{"env":"lower","t":587,"amp":-0.201},{"env":"lower","t":602,"amp":-0.245},{"env":"lower","t":612,"amp":-0.555},{"env":"lower","t":622,"amp":-0.481},{"env":"lower","t":632,"amp":-0.267},{"env":"lower","t":642,"amp":-0.274},{"env":"lower","t":652,"amp":-0.296},{"env":"lower","t":662,"amp":-0.274},{"env":"lower","t":672,"amp":-0.584},{"env":"lower","t":680,"amp":-0.673},{"env":"lower","t":687,"amp":-0.51},{"env":"lower","t":697,"amp":-0.437},{"env":"lower","t":707,"amp":-0.466},{"env":"lower","t":717,"amp":-0.422},{"env":"lower","t":727,"amp":-0.687},{"env":"lower","t":734,"amp":-0.783},{"env":"lower","t":742,"amp":-0.717},{"env":"lower","t":752,"amp":-0.51},{"env":"lower","t":762,"amp":-0.437},{"env":"lower","t":772,"amp":-0.245},{"env":"lower","t":782,"amp":-0.142},{"env":"lower","t":792,"amp":-0.289},{"env":"lower","t":800,"amp":-0.51},{"env":"lower","t":810,"amp":-0.466},{"env":"lower","t":820,"amp":-0.333},{"env":"lower","t":832,"amp":-0.245},{"env":"lower","t":842,"amp":-0.26},{"env":"lower","t":852,"amp":-0.274},{"env":"lower","t":859,"amp":-0.296},{"env":"lower","t":867,"amp":-0.171},{"env":"lower","t":877,"amp":-0.068},{"env":"lower","t":892,"amp":-0.068},{"env":"lower","t":907,"amp":-0.068},{"env":"lower","t":922,"amp":-0.053},{"env":"lower","t":937,"amp":-0.06},{"env":"lower","t":952,"amp":-0.053},{"env":"lower","t":967,"amp":-0.053},{"env":"lower","t":982,"amp":-0.053},{"env":"lower","t":992,"amp":-0.112},{"env":"lower","t":1002,"amp":-0.392},{"env":"lower","t":1012,"amp":-0.65},{"env":"lower","t":1022,"amp":-0.628},{"env":"lower","t":1032,"amp":-0.363},{"env":"lower","t":1047,"amp":-0.378},{"env":"lower","t":1062,"amp":-0.584},{"env":"lower","t":1077,"amp":-0.687},{"env":"lower","t":1087,"amp":-0.754},{"env":"lower","t":1097,"amp":-0.54},{"env":"lower","t":1107,"amp":-0.274},{"env":"lower","t":1117,"amp":-0.488},{"env":"lower","t":1127,"amp":-0.481},{"env":"lower","t":1137,"amp":-0.201},{"env":"lower","t":1147,"amp":-0.024},{"env":"lower","t":1162,"amp":-0.024},{"env":"lower","t":1174,"amp":-0.038},{"env":"lower","t":1182,"amp":-0.097},{"env":"lower","t":1190,"amp":-0.392},{"env":"lower","t":1200,"amp":-0.245},{"env":"lower","t":1210,"amp":-0.038},{"env":"lower","t":1227,"amp":-0.024},{"env":"lower","t":1242,"amp":-0.068},{"env":"lower","t":1254,"amp":-0.223},{"env":"lower","t":1264,"amp":-0.186},{"env":"lower","t":1274,"amp":-0.097},{"env":"lower","t":1282,"amp":-0.024},{"env":"lower","t":1302,"amp":-0.016},{"env":"lower","t":1312,"amp":-0.016},{"env":"lower","t":1320,"amp":-0.016},{"env":"lower","t":1327,"amp":-0.03},{"env":"lower","t":1330,"amp":-0.201},{"env":"lower","t":1337,"amp":-0.496},{"env":"lower","t":1347,"amp":-0.451},{"env":"lower","t":1357,"amp":-0.378},{"env":"lower","t":1372,"amp":-0.245},{"env":"lower","t":1382,"amp":-0.23},{"env":"lower","t":1397,"amp":-0.392},{"env":"lower","t":1410,"amp":-0.555},{"env":"lower","t":1422,"amp":-0.392},{"env":"lower","t":1430,"amp":-0.016},{"env":"lower","t":1445,"amp":-0.015},{"env":"lower","t":1457,"amp":-0.016},{"env":"lower","t":1460,"amp":-0.201},{"env":"lower","t":1472,"amp":-0.333},{"env":"lower","t":1482,"amp":-0.481},{"env":"lower","t":1490,"amp":-0.621},{"env":"lower","t":1502,"amp":-0.525},{"env":"lower","t":1517,"amp":-0.333},{"env":"lower","t":1527,"amp":-0.274},{"env":"lower","t":1540,"amp":-0.333},{"env":"lower","t":1552,"amp":-0.451},{"env":"lower","t":1572,"amp":-0.562},{"env":"lower","t":1582,"amp":-0.451},{"env":"lower","t":1592,"amp":-0.319},{"env":"lower","t":1602,"amp":-0.267},{"env":"lower","t":1617,"amp":-0.215},{"env":"lower","t":1627,"amp":-0.097},{"env":"lower","t":1632,"amp":-0.016},{"env":"lower","t":1650,"amp":-0.015},{"env":"lower","t":1672,"amp":-0.016},{"env":"lower","t":1675,"amp":-0.2},{"env":"lower","t":1679,"amp":-0.245},{"env":"lower","t":1687,"amp":-0.274},{"env":"lower","t":1702,"amp":-0.289},{"env":"lower","t":1712,"amp":-0.245},{"env":"lower","t":1727,"amp":-0.267},{"env":"lower","t":1742,"amp":-0.392},{"env":"lower","t":1752,"amp":-0.473},{"env":"lower","t":1762,"amp":-0.392},{"env":"lower","t":1772,"amp":-0.215},{"env":"lower","t":1787,"amp":-0.097},{"env":"lower","t":1797,"amp":-0.016},{"env":"lower","t":1812,"amp":-0.038},{"env":"lower","t":1827,"amp":-0.274},{"env":"lower","t":1837,"amp":-0.215},{"env":"lower","t":1852,"amp":-0.142},{"env":"lower","t":1872,"amp":-0.134},{"env":"lower","t":1887,"amp":-0.201},{"env":"lower","t":1897,"amp":-0.223},{"env":"lower","t":1907,"amp":-0.215},{"env":"lower","t":1917,"amp":-0.223},{"env":"lower","t":1927,"amp":-0.186},{"env":"lower","t":1937,"amp":-0.186},{"env":"lower","t":1947,"amp":-0.223},{"env":"lower","t":1962,"amp":-0.156},{"env":"lower","t":1977,"amp":-0.038},{"env":"lower","t":1982,"amp":-0.016},{"env":"lower","t":2000,"amp":-0.015},{"env":"lower","t":2015,"amp":-0.016},{"env":"lower","t":2020,"amp":-0.171},{"env":"lower","t":2030,"amp":-0.333},{"env":"lower","t":2037,"amp":-0.333},{"env":"lower","t":2044,"amp":-0.614},{"env":"lower","t":2052,"amp":-0.392},{"env":"lower","t":2062,"amp":-0.363},{"env":"lower","t":2077,"amp":-0.473},{"env":"lower","t":2087,"amp":-0.392},{"env":"lower","t":2097,"amp":-0.333},{"env":"lower","t":2110,"amp":-0.245},{"env":"lower","t":2122,"amp":-0.23},{"env":"lower","t":2134,"amp":-0.392},{"env":"lower","t":2142,"amp":-0.621},{"env":"lower","t":2152,"amp":-0.466},{"env":"lower","t":2162,"amp":-0.437},{"env":"lower","t":2172,"amp":-0.289},{"env":"lower","t":2182,"amp":-0.215},{"env":"lower","t":2192,"amp":-0.26},{"env":"lower","t":2202,"amp":-0.363},{"env":"lower","t":2207,"amp":-0.407},{"env":"lower","t":2217,"amp":-0.319},{"env":"lower","t":2227,"amp":-0.304},{"env":"lower","t":2237,"amp":-0.289},{"env":"lower","t":2247,"amp":-0.274},{"env":"lower","t":2257,"amp":-0.282},{"env":"lower","t":2267,"amp":-0.304},{"env":"lower","t":2282,"amp":-0.363},{"env":"lower","t":2292,"amp":-0.407},{"env":"lower","t":2302,"amp":-0.304},{"env":"lower","t":2312,"amp":-0.26},{"env":"lower","t":2322,"amp":-0.274},{"env":"lower","t":2332,"amp":-0.326},{"env":"lower","t":2340,"amp":-0.333},{"env":"lower","t":2352,"amp":-0.289},{"env":"lower","t":2362,"amp":-0.23},{"env":"lower","t":2372,"amp":-0.23},{"env":"lower","t":2382,"amp":-0.26},{"env":"lower","t":2390,"amp":-0.319},{"env":"lower","t":2400,"amp":-0.245},{"env":"lower","t":2412,"amp":-0.245},{"env":"lower","t":2422,"amp":-0.274},{"env":"lower","t":2432,"amp":-0.215},{"env":"lower","t":2447,"amp":-0.23},{"env":"lower","t":2457,"amp":-0.23},{"env":"lower","t":2467,"amp":-0.186},{"env":"lower","t":2477,"amp":-0.142},{"env":"lower","t":2487,"amp":-0.186},{"env":"lower","t":2497,"amp":-0.201},{"env":"lower","t":2507,"amp":-0.215},{"env":"lower","t":2517,"amp":-0.215},{"env":"lower","t":2527,"amp":-0.23},{"env":"lower","t":2537,"amp":-0.245},{"env":"lower","t":2547,"amp":-0.23},{"env":"lower","t":2557,"amp":-0.215},{"env":"lower","t":2567,"amp":-0.274},{"env":"lower","t":2577,"amp":-0.341},{"env":"lower","t":2587,"amp":-0.245},{"env":"lower","t":2597,"amp":-0.186},{"env":"lower","t":2607,"amp":-0.215},{"env":"lower","t":2612,"amp":-0.142}
    ]
  },
  "hconcat": [
    {
      "title": "Clean Waveform",
      "width": 867,
      "height": 452,
      "data": {"name": "clean"},
      "mark": {"type": "area", "fill": "#808080", "stroke": "#808080", "strokeWidth": 4, "strokeJoin": "round", "opacity": 1},
      "encoding": {
        "x": {"field": "t", "type": "quantitative", "scale": {"domain": [0, 2612], "nice": false, "zero": false}, "axis": null},
        "y": {"field": "amp", "type": "quantitative", "stack": null, "scale": {"domain": [-1, 1], "nice": false}, "axis": null},
        "y2": {"datum": 0},
        "detail": {"field": "env", "type": "nominal"}
      }
    },
    {
      "title": "Noisy Waveform",
      "width": 867,
      "height": 452,
      "data": {"name": "noisy"},
      "mark": {"type": "area", "fill": "#808080", "stroke": "#808080", "strokeWidth": 4, "strokeJoin": "round", "opacity": 1},
      "encoding": {
        "x": {"field": "t", "type": "quantitative", "scale": {"domain": [0, 2612], "nice": false, "zero": false}, "axis": null},
        "y": {"field": "amp", "type": "quantitative", "stack": null, "scale": {"domain": [-1, 1], "nice": false}, "axis": null},
        "y2": {"datum": 0},
        "detail": {"field": "env", "type": "nominal"}
      }
    }
  ]
}
